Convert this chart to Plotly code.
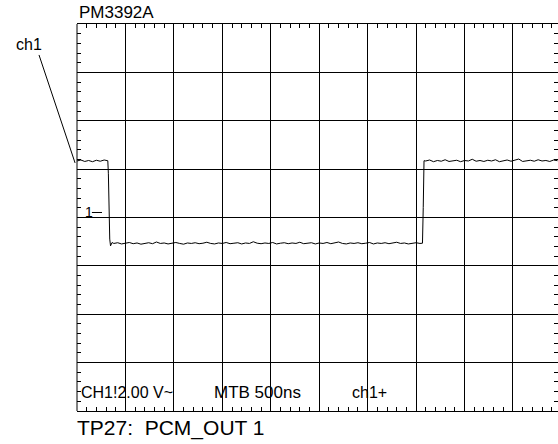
import plotly.graph_objects as go

# scope settings: 10 x 500 ns horizontally, 8 x 2 V vertically (AC coupled)
NS_PER_DIV = 500
V_PER_DIV = 2.0
GND_OFFSET = 0.207  # ch1 ground marker sits a bit above screen centre

# ch1 trace (ns, V relative to ground)
T_HIGH1 = [0, 40, 80, 120, 160, 200, 240, 280, 318]
V_HIGH1 = [2.13, 2.17, 2.11, 2.15, 2.10, 2.16, 2.12, 2.17, 2.14]

T_FALL = [324, 338, 346, 362]
V_FALL = [1.60, -1.10, -1.38, -1.24]

T_LOW = [380, 420, 460, 500, 540, 580, 620, 660, 700, 740,
         780, 820, 860, 900, 940, 980, 1020, 1060, 1100, 1140,
         1180, 1220, 1260, 1300, 1340, 1380, 1420, 1460, 1500, 1540,
         1580, 1620, 1660, 1700, 1740, 1780, 1820, 1860, 1900, 1940,
         1980, 2020, 2060, 2100, 2140, 2180, 2220, 2260, 2300, 2340,
         2380, 2420, 2460, 2500, 2540, 2580, 2620, 2660, 2700, 2740,
         2780, 2820, 2860, 2900, 2940, 2980, 3020, 3060, 3100, 3140,
         3180, 3220, 3260, 3300, 3340, 3380, 3420, 3460, 3500, 3540]
V_LOW = [-1.28, -1.25, -1.30, -1.27, -1.24, -1.29, -1.26, -1.31, -1.27, -1.25,
         -1.29, -1.22, -1.28, -1.26, -1.30, -1.27, -1.24, -1.28, -1.31, -1.26,
         -1.28, -1.25, -1.29, -1.27, -1.23, -1.28, -1.30, -1.26, -1.28, -1.24,
         -1.29, -1.27, -1.25, -1.30, -1.26, -1.28, -1.21, -1.27, -1.29, -1.26,
         -1.28, -1.24, -1.30, -1.27, -1.25, -1.29, -1.26, -1.28, -1.23, -1.29,
         -1.27, -1.25, -1.30, -1.26, -1.28, -1.24, -1.29, -1.27, -1.22, -1.28,
         -1.30, -1.26, -1.28, -1.25, -1.29, -1.27, -1.24, -1.30, -1.26, -1.28,
         -1.25, -1.29, -1.27, -1.23, -1.28, -1.26, -1.30, -1.27, -1.25, -1.28]

T_RISE = [3566, 3574, 3582]
V_RISE = [-1.27, 0.20, 2.14]

T_HIGH2 = [3600, 3640, 3680, 3720, 3760, 3800, 3840, 3880, 3920, 3960,
           4000, 4040, 4080, 4120, 4160, 4200, 4240, 4280, 4320, 4360,
           4400, 4440, 4480, 4520, 4560, 4600, 4640, 4680, 4720, 4760,
           4800, 4840, 4880, 4920, 4960]
V_HIGH2 = [2.13, 2.17, 2.10, 2.15, 2.12, 2.18, 2.11, 2.14, 2.16, 2.10,
           2.15, 2.13, 2.20, 2.12, 2.15, 2.11, 2.16, 2.13, 2.18, 2.10,
           2.14, 2.17, 2.12, 2.15, 2.21, 2.11, 2.14, 2.16, 2.12, 2.18,
           2.13, 2.15, 2.11, 2.17, 2.14]

FONT = "Liberation Sans, Arial, sans-serif"


def main():
    t = T_HIGH1 + T_FALL + T_LOW + T_RISE + T_HIGH2
    v = V_HIGH1 + V_FALL + V_LOW + V_RISE + V_HIGH2

    fig = go.Figure(go.Scatter(x=t, y=v, mode="lines",
                               line=dict(color="black", width=1),
                               hoverinfo="skip"))

    y0 = -4 * V_PER_DIV - GND_OFFSET
    fig.update_layout(
        width=558, height=444,
        margin=dict(l=77, r=0, t=24, b=33),
        paper_bgcolor="white", plot_bgcolor="white",
        showlegend=False,
        font=dict(family=FONT, color="black"),
    )
    fig.update_xaxes(range=[0, 4965], tick0=0, dtick=NS_PER_DIV,
                     showgrid=True, gridcolor="black", gridwidth=1,
                     showline=True, linecolor="black", linewidth=1, mirror="ticks",
                     ticks="inside", ticklen=4, tickcolor="black",
                     showticklabels=False, zeroline=False,
                     minor=dict(tick0=0, dtick=NS_PER_DIV / 5, ticks="inside",
                                ticklen=4, tickcolor="black", showgrid=False))
    fig.update_yaxes(range=[y0, y0 + 8 * V_PER_DIV], tick0=y0, dtick=V_PER_DIV,
                     showgrid=True, gridcolor="black", gridwidth=1,
                     showline=False, mirror="ticks",
                     ticks="inside", ticklen=4, tickcolor="black",
                     showticklabels=False, zeroline=False,
                     minor=dict(tick0=y0, dtick=V_PER_DIV / 5, ticks="inside",
                                ticklen=4, tickcolor="black", showgrid=False))

    # left border of the graticule
    fig.add_shape(type="line", xref="paper", yref="paper", x0=0, x1=0, y0=0, y1=1,
                  line=dict(color="black", width=1))
    # leader from the "ch1" label to the trace
    fig.add_shape(type="line", xref="paper", yref="paper",
                  x0=-0.079, y0=0.92, x1=-0.004, y1=0.641,
                  line=dict(color="black", width=1))
    # ground marker dash
    fig.add_shape(type="line", xref="paper", yref="y", x0=0.031, x1=0.052, y0=0, y1=0,
                  line=dict(color="black", width=1))

    notes = [
        ("PM3392A", 0.0, 1.031, 17),
        ("ch1", -0.131, 0.948, 16),
        ("CH1!2.00 V~", 0.004, 0.049, 16),
        ("MTB 500ns", 0.281, 0.049, 17),
        ("ch1+", 0.568, 0.049, 16),
        ("TP27: \u00a0PCM_OUT 1", -0.004, -0.044, 21),
    ]
    for text, x, y, size in notes:
        fig.add_annotation(text=text, x=x, y=y, xref="paper", yref="paper",
                           xanchor="left", yanchor="middle", showarrow=False,
                           font=dict(size=size, family=FONT, color="black"))
    fig.add_annotation(text="1", x=0.012, y=0, xref="paper", yref="y",
                       xanchor="left", yanchor="middle", showarrow=False,
                       font=dict(size=14, family=FONT, color="black"))

    # page body has a default 8px margin; drop it so the figure fills the window
    fig.write_html("out.html", config={"displayModeBar": False},
                   post_script="document.body.style.margin='0';")


if __name__ == '__main__':
    main()
